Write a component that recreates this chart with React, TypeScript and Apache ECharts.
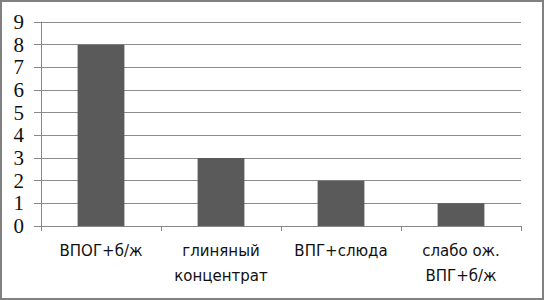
import React, { useEffect, useRef } from "react";
import * as echarts from "echarts";

const categories = ["ВПОГ+б/ж", "глиняный\nконцентрат", "ВПГ+слюда", "слабо ож.\nВПГ+б/ж"];
const values = [8, 3, 2, 1];
const yTicks = { min: 0, max: 9, interval: 1 };

export default function App() {
  const ref = useRef<HTMLDivElement>(null);
  useEffect(() => {
    document.body.style.margin = "0";
    const chart = echarts.init(ref.current!, null, { renderer: "svg" });
    chart.setOption({
      animation: false,
      backgroundColor: "#ffffff",
      grid: { left: 41, right: 23, top: 22, bottom: 74, containLabel: false },
      graphic: [
        {
          type: "rect",
          shape: { x: 1, y: 1, width: 542, height: 298 },
          style: { fill: "none", stroke: "#808080", lineWidth: 2 },
          silent: true,
        },
      ],
      xAxis: {
        type: "category",
        data: categories,
        axisLine: { show: true, lineStyle: { color: "#888888", width: 1 } },
        axisTick: { show: true, length: 5, alignWithLabel: false, lineStyle: { color: "#888888" } },
        axisLabel: {
          interval: 0,
          color: "#111111",
          fontFamily: "DejaVu Sans",
          fontSize: 15,
          lineHeight: 25,
          margin: 12,
        },
      },
      yAxis: {
        type: "value",
        min: yTicks.min,
        max: yTicks.max,
        interval: yTicks.interval,
        axisLine: { show: true, lineStyle: { color: "#888888", width: 1 } },
        axisTick: { show: true, length: 7, lineStyle: { color: "#888888" } },
        splitLine: { show: true, lineStyle: { color: "#8c8c8c", width: 1 } },
        axisLabel: {
          color: "#111111",
          fontFamily: "Liberation Serif",
          fontSize: 21,
          margin: 17,
        },
      },
      series: [
        {
          type: "bar",
          data: values,
          barCategoryGap: "61%",
          itemStyle: { color: "#5a5a5a" },
        },
      ],
    });
    return () => chart.dispose();
  }, []);
  return <div ref={ref} style={{ position: "absolute", left: 0, top: 0, width: 544, height: 300 }} />;
}
